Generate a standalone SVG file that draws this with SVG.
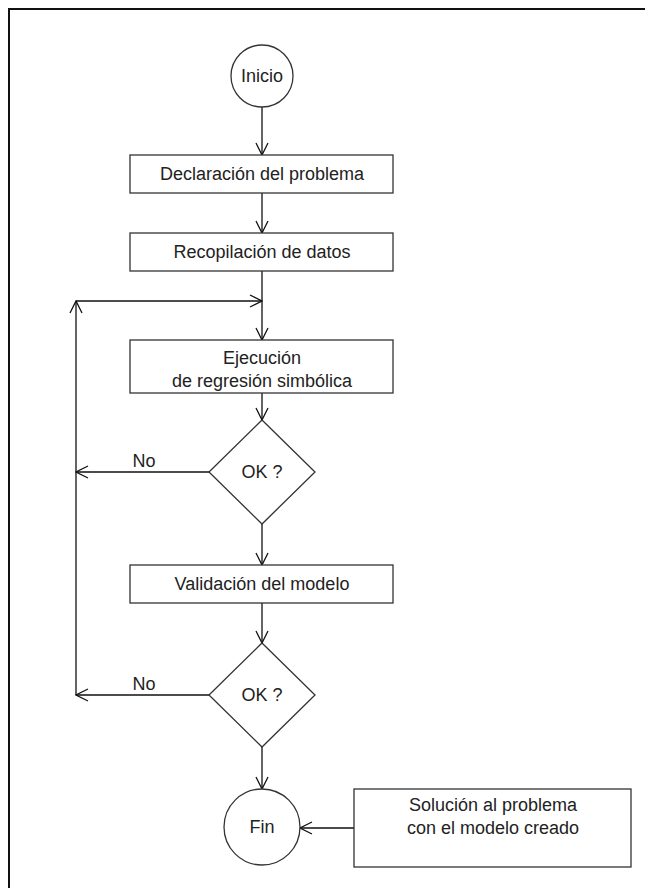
<svg xmlns="http://www.w3.org/2000/svg" width="645" height="888" viewBox="0 0 645 888">
  <style>
    .shape { fill: #ffffff; stroke: #333333; stroke-width: 1.3; }
    .edge { fill: none; stroke: #111111; stroke-width: 1.3; }
    .label { font-family: "Liberation Sans", Arial, sans-serif; font-size: 18px; fill: #222222; text-anchor: middle; }
    .frame { stroke: #111111; stroke-width: 2; }
  </style>
  <defs>
    <marker id="open-arrow" viewBox="0 0 14 14" refX="13" refY="7" markerWidth="14" markerHeight="14" markerUnits="userSpaceOnUse" orient="auto">
      <path d="M1,1 L13,7 L1,13" fill="none" stroke="#111111" stroke-width="1.3"/>
    </marker>
  </defs>

  <rect width="645" height="888" fill="#ffffff"/>

  <!-- page frame (top and left edges) -->
  <g id="frame">
    <line class="frame" x1="8" y1="9" x2="645" y2="9"/>
    <line class="frame" x1="9" y1="8" x2="9" y2="888"/>
  </g>

  <!-- connectors -->
  <g id="connectors">
    <line class="edge" x1="262" y1="107" x2="262" y2="155" marker-end="url(#open-arrow)"/>
    <line class="edge" x1="262" y1="193" x2="262" y2="233" marker-end="url(#open-arrow)"/>
    <line class="edge" x1="262" y1="271" x2="262" y2="340" marker-end="url(#open-arrow)"/>
    <line class="edge" x1="262" y1="393" x2="262" y2="420" marker-end="url(#open-arrow)"/>
    <line class="edge" x1="262" y1="524" x2="262" y2="565" marker-end="url(#open-arrow)"/>
    <line class="edge" x1="262" y1="603" x2="262" y2="643" marker-end="url(#open-arrow)"/>
    <line class="edge" x1="262" y1="747" x2="262" y2="789" marker-end="url(#open-arrow)"/>
    <!-- "No" branches back to the loop rail -->
    <line class="edge" x1="209" y1="472" x2="76" y2="472" marker-end="url(#open-arrow)"/>
    <line class="edge" x1="209" y1="695" x2="76" y2="695" marker-end="url(#open-arrow)"/>
    <line class="edge" x1="76" y1="695" x2="76" y2="301" marker-end="url(#open-arrow)"/>
    <line class="edge" x1="76" y1="301" x2="262" y2="301" marker-end="url(#open-arrow)"/>
    <!-- solution note into end node -->
    <line class="edge" x1="354" y1="828" x2="300" y2="828" marker-end="url(#open-arrow)"/>
  </g>

  <g id="inicio">
    <circle class="shape" cx="262" cy="76" r="31"/>
    <text class="label" x="262" y="82">Inicio</text>
  </g>

  <g id="declaracion">
    <rect class="shape" x="130" y="155" width="263" height="38"/>
    <text class="label" x="262" y="180">Declaración del problema</text>
  </g>

  <g id="recopilacion">
    <rect class="shape" x="130" y="233" width="263" height="38"/>
    <text class="label" x="262" y="258">Recopilación de datos</text>
  </g>

  <g id="ejecucion">
    <rect class="shape" x="130" y="340" width="263" height="53"/>
    <text class="label" x="262" y="364">Ejecución</text>
    <text class="label" x="262" y="387">de regresión simbólica</text>
  </g>

  <g id="decision1">
    <polygon class="shape" points="262,420 315,472 262,524 209,472"/>
    <text class="label" x="262" y="478">OK ?</text>
    <text class="label" x="144" y="467">No</text>
  </g>

  <g id="validacion">
    <rect class="shape" x="130" y="565" width="263" height="38"/>
    <text class="label" x="262" y="590">Validación del modelo</text>
  </g>

  <g id="decision2">
    <polygon class="shape" points="262,643 315,695 262,747 209,695"/>
    <text class="label" x="262" y="701">OK ?</text>
    <text class="label" x="144" y="690">No</text>
  </g>

  <g id="fin">
    <circle class="shape" cx="262" cy="827" r="38"/>
    <text class="label" x="262" y="833">Fin</text>
  </g>

  <g id="solucion">
    <rect class="shape" x="354" y="789" width="277" height="78"/>
    <text class="label" x="493" y="811">Solución al problema</text>
    <text class="label" x="493" y="834">con el modelo creado</text>
  </g>
</svg>
